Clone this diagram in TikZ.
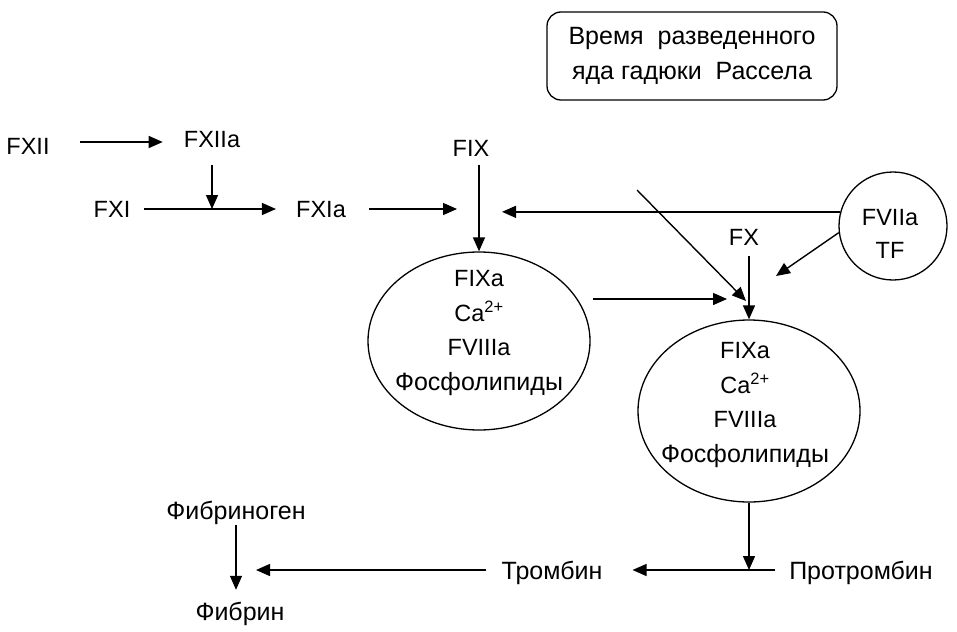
\documentclass[tikz,border=0pt]{standalone}
\usepackage{fontspec}
\setmainfont{Liberation Sans}
\usetikzlibrary{arrows.meta,shapes.geometric}
\newcommand{\cyr}{\fontsize{25}{34.5}\selectfont}
\begin{document}
\begin{tikzpicture}[x=1pt,y=-1pt,
  lbl/.style={inner sep=0pt, text height=17pt, text depth=0pt, font=\fontsize{23.5}{33}\selectfont},
  clbl/.style={lbl, font=\fontsize{25}{33}\selectfont, text height=18pt},
  stack/.style={align=center, inner sep=0pt, font=\fontsize{23.5}{34.5}\selectfont},
  arr/.style={line width=1.4pt, -{Triangle[length=14pt,width=12pt]}},
  blob/.style={draw, line width=1.3pt, ellipse, inner sep=0pt}]
\useasboundingbox (0,0) rectangle (957,631);

% title box
\node[draw, line width=1.3pt, rounded corners=14pt, minimum width=290pt, minimum height=88pt,
      align=center, inner sep=0pt, font=\fontsize{25}{35}\selectfont] (box) at (692,56)
  {Время\ \ разведенного\\яда гадюки\ \ Рассела};

% intrinsic pathway labels
\node[lbl] (fxii)  at (28,146)  {FXII};
\node[lbl] (fxiia) at (212,139) {FXIIa};
\node[lbl] (fxi)   at (112,209) {FXI};
\node[lbl] (fxia)  at (321,209) {FXIa};
\node[lbl] (fix)   at (471,148) {FIX};
\node[lbl] (fx)    at (744,237) {FX};

% tenase complexes
\node[blob, minimum width=222pt, minimum height=178pt] (c1) at (479,341) {};
\node[stack] (t1) at (479,333) {FIXa\\Ca\textsuperscript{2+}\\FVIIIa\\{\cyr Фосфолипиды}};
\node[blob, minimum width=222pt, minimum height=182pt] (c2) at (749,411) {};
\node[stack] (t2) at (745,405) {FIXa\\Ca\textsuperscript{2+}\\FVIIIa\\{\cyr Фосфолипиды}};

% tissue factor complex
\node[draw, circle, line width=1.3pt, minimum size=108pt, inner sep=0pt] (c3) at (893,226) {};
\node[stack, font=\fontsize{23.5}{33}\selectfont] (t3) at (890,234) {FVIIa\\TF};

% common pathway labels
\node[clbl] (prot) at (861,570) {Протромбин};
\node[clbl] (trom) at (552,570) {Тромбин};
\node[clbl] (fibg) at (236,510) {Фибриноген};
\node[clbl] (fib)  at (240,611) {Фибрин};

% free arrow ends
\coordinate (hub1) at (457,209);
\coordinate (hub2) at (502,209);
\coordinate (d0)   at (637,190);
\coordinate (hub3) at (746,301);
\coordinate (hub4) at (776,276);
\coordinate (hub5) at (727,299);
\coordinate (hub6) at (256,570);

% connectors
\draw[arr, shorten <=30pt, shorten >=21pt] ([yshift=4pt]fxii.east) -- ([yshift=4pt]fxii.east -| fxiia.west);
\draw[arr, shorten <=17pt] (fxiia.south) -- (fxiia.south |- fxi.east);
\draw[arr, shorten <=14pt, shorten >=20pt] (fxi.east) -- (fxia.west);
\draw[arr, shorten <=23pt] (fxia.east) -- (hub1);
\draw[arr, shorten <=8pt] (c1.north |- fix.south) -- (c1.north);
\draw[arr] (c3.165) -- (c3.165 -| hub2);
\draw[arr] (d0) -- (hub3);
\draw[arr, shorten <=10pt] (c2.north |- fx.south) -- (c2.north);
\draw[arr] (c3.187) -- (hub4);
\draw[arr, shorten <=2pt] (c1.east |- hub5) -- (hub5);
\draw[arr] (c2.south) -- (c2.south |- prot.west);
\draw[arr, shorten <=14pt, shorten >=30pt] (prot.west) -- (trom.east);
\draw[arr, shorten <=15pt] (trom.west) -- (trom.west -| hub6);
\draw[arr, shorten <=5.5pt, shorten >=12pt] (fibg.south) -- (fibg.south |- fib.north);
\end{tikzpicture}
\end{document}
